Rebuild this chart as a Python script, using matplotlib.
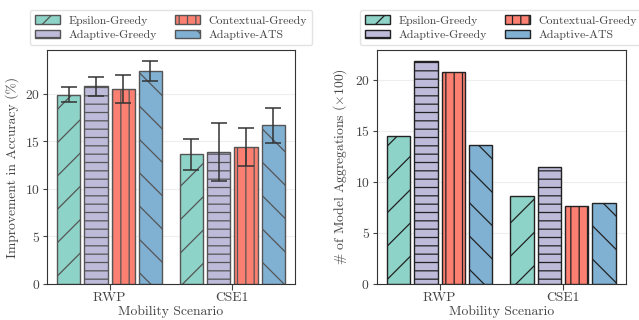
import numpy as np
import matplotlib
matplotlib.use('Agg')
import matplotlib.pyplot as plt

plt.rcParams['font.family'] = ['cmr10', 'DejaVu Serif']
plt.rcParams['mathtext.fontset'] = 'cm'
plt.rcParams['axes.formatter.use_mathtext'] = True
plt.rcParams['hatch.linewidth'] = 0.9

scenarios = ['RWP', 'CSE1']
methods = ['Epsilon-Greedy', 'Adaptive-Greedy', 'Contextual-Greedy', 'Adaptive-ATS']
colors = ['#8dd3c7', '#bebada', '#fb8072', '#80b1d3']
hatches = ['/', '--', '||', '\\']

# improvement in accuracy (%), per method: [RWP, CSE1]
acc_mean = [[19.9, 13.7], [20.85, 13.85], [20.55, 14.45], [22.4, 16.7]]
acc_low = [[19.1, 12.0], [19.8, 10.8], [19.0, 12.4], [21.3, 14.8]]
acc_high = [[20.7, 15.3], [21.75, 16.9], [22.0, 16.4], [23.5, 18.5]]

# number of model aggregations (x100)
aggs = [[14.45, 8.6], [21.85, 11.45], [20.8, 7.65], [13.65, 7.95]]

slot = 0.222
width = 0.19


def draw_bars(ax, values, edge, low=None, high=None):
    x = np.arange(len(scenarios))
    for i, m in enumerate(methods):
        pos = x + (i - 1.5) * slot
        vals = np.array(values[i])
        ax.bar(pos, vals, width, color=colors[i], edgecolor=edge,
               hatch=hatches[i], linewidth=1.0, label=m, zorder=2)
        if low is not None:
            err = [vals - np.array(low[i]), np.array(high[i]) - vals]
            ax.errorbar(pos, vals, yerr=err, fmt='none', ecolor='#333333',
                        elinewidth=1.1, capsize=6, capthick=1.1, zorder=3)
    ax.set_xticks(x)
    ax.set_xticklabels(scenarios)
    ax.set_xlim(-0.51, 1.51)
    ax.set_xlabel('Mobility Scenario', fontsize=9.8, color='#444444', labelpad=0.5)
    ax.grid(axis='y', color='#eeeeee', linewidth=0.8, zorder=0)
    ax.tick_params(labelsize=9.8, colors='#444444', length=3, pad=2)
    ax.tick_params(axis='x', length=4, pad=2)
    for s in ax.spines.values():
        s.set_color('#333333')
    leg = ax.legend(loc='lower center', bbox_to_anchor=(0.5, 1.0), ncol=2,
                    fontsize=8.5, frameon=True, borderaxespad=0.4,
                    handlelength=2.1, columnspacing=1.5, handletextpad=0.75,
                    labelspacing=0.35, borderpad=0.45)
    leg.get_frame().set_edgecolor('#dddddd')
    for t in leg.get_texts():
        t.set_color('#444444')


fig = plt.figure(figsize=(6.39, 3.2), dpi=100)
ax1 = fig.add_axes([0.0736, 0.1125, 0.388, 0.731])
ax2 = fig.add_axes([0.5895, 0.1125, 0.390, 0.731])

draw_bars(ax1, acc_mean, '#555555', acc_low, acc_high)
ax1.set_ylim(0, 24.6)
ax1.set_yticks([0, 5, 10, 15, 20])
ax1.set_ylabel('Improvement in Accuracy (%)', fontsize=9.8, color='#444444', labelpad=4)

draw_bars(ax2, aggs, '#222222')
ax2.set_ylim(0, 22.9)
ax2.set_yticks([0, 5, 10, 15, 20])
ax2.set_ylabel(r'# of Model Aggregations ($\times 100$)', fontsize=9.8, color='#444444', labelpad=4)

fig.savefig('out.png', dpi=100)
